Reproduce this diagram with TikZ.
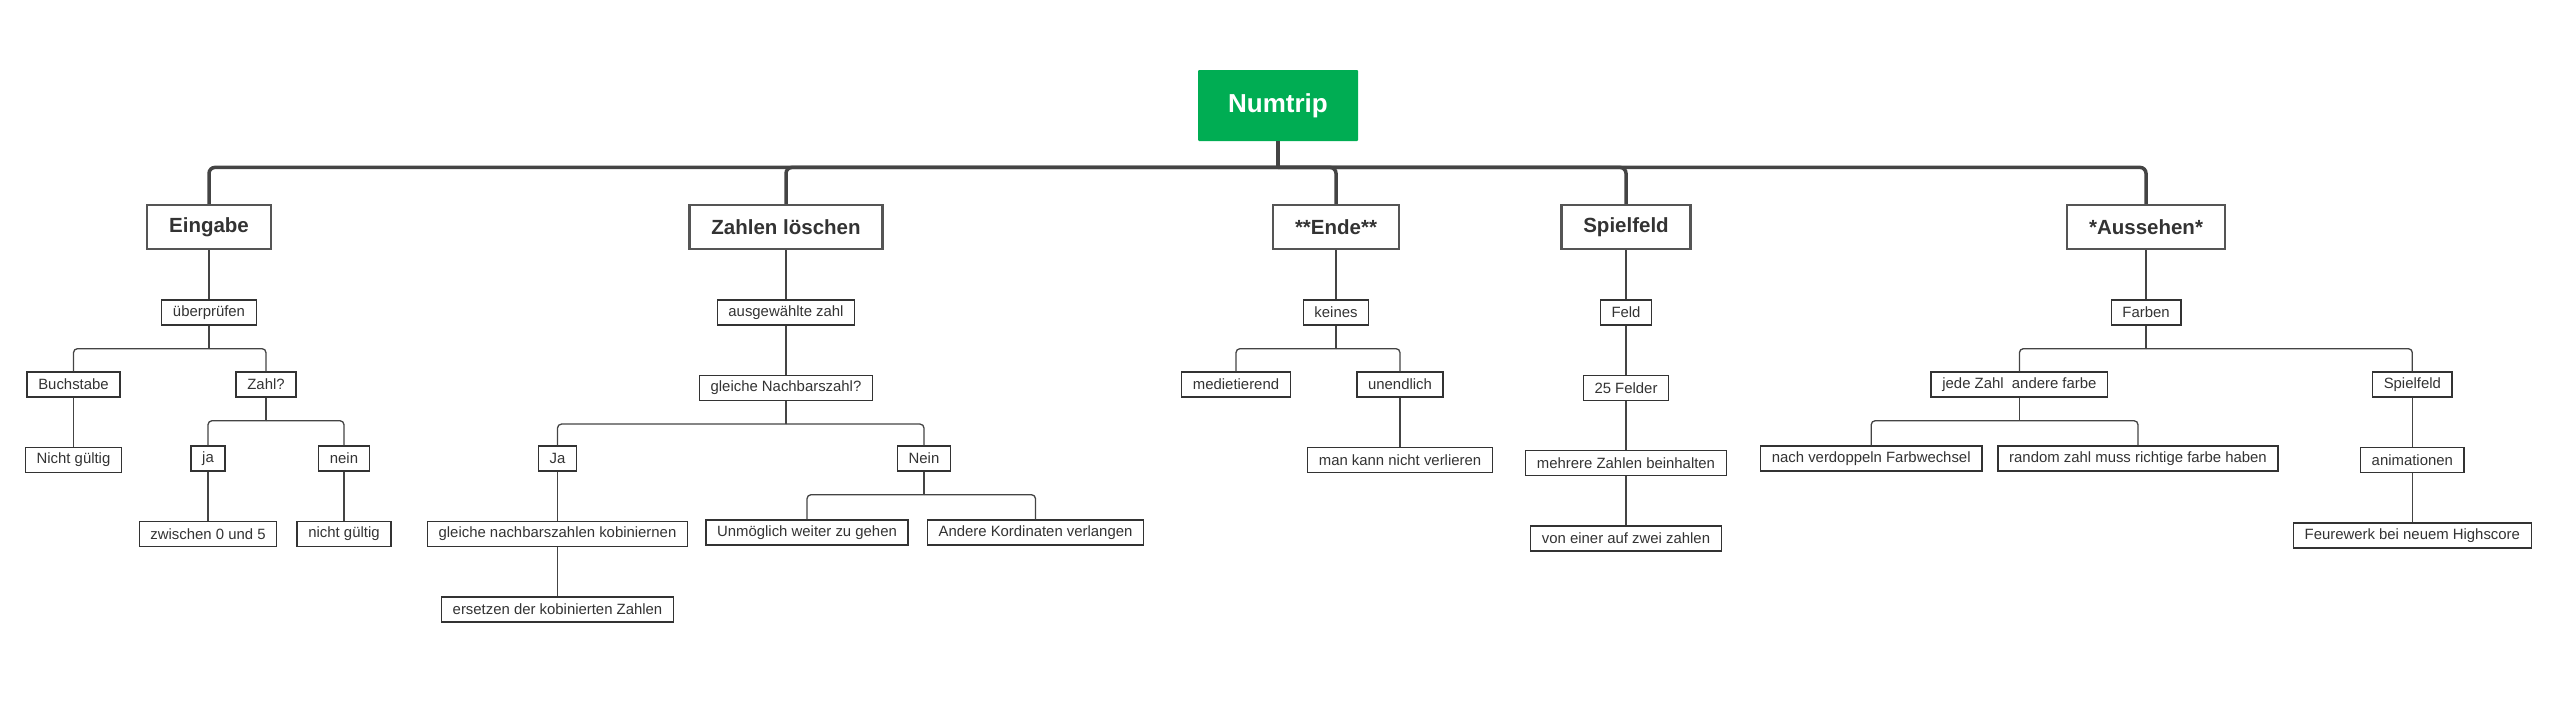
\documentclass[tikz,border=0pt]{standalone}
\usepackage{fontspec}
\setmainfont{Liberation Sans}
\usetikzlibrary{positioning}
\definecolor{rootgreen}{RGB}{0,173,83}
\definecolor{linegray}{RGB}{68,68,68}
\definecolor{boxgray}{RGB}{85,85,85}
\definecolor{inkgray}{RGB}{51,51,51}
% parent with two children, joined by a bar under the parent
\newcommand{\fork}[3]{%
  \path (#1.south) ++(0,23) coordinate (#1-j);
  \draw[link] (#1.south) -- (#1-j);
  \draw[link] (#1-j) -| (#2.north);
  \draw[link] (#1-j) -| (#3.north);}

\begin{document}
\begin{tikzpicture}[x=0.5pt, y=-0.5pt,
  every node/.style={inner sep=0pt},
  root/.style={fill=rootgreen, text=white, rounded corners=0.5pt,
               font=\fontsize{13}{15}\selectfont\bfseries,
               minimum width=80pt, minimum height=35.5pt},
  topic/.style={draw=boxgray, line width=1.25pt, fill=white, text=inkgray,
                font=\fontsize{10.25}{12}\selectfont\bfseries,
                inner xsep=11pt, minimum height=22pt},
  leaf/.style={draw=inkgray, line width=0.7pt, fill=white, text=inkgray,
               font=\fontsize{7.45}{9}\selectfont,
               inner xsep=5.6pt, minimum height=12.5pt},
  trunk/.style={draw=linegray, line width=1.75pt, rounded corners=3pt},
  link/.style={draw=linegray, line width=0.65pt, rounded corners=2pt}]
\useasboundingbox (0,0) rectangle (2551,720);

\node[root] (root) at (1278,105.5) {Numtrip};
\node[topic] (eing) at (209,227) {Eingabe};
\node[topic] (loesch) at (786,227) {Zahlen löschen};
\node[topic] (ende) at (1336,227) {**Ende**};
\node[topic] (feldtop) at (1626,227) {Spielfeld};
\node[topic] (auss) at (2146,227) {*Aussehen*};

% Eingabe
\node[leaf, below=24.5pt of eing] (pruef) {überprüfen};
\node[leaf] (buch) at (73.5,384.5) {Buchstabe};
\node[leaf] (zahlq) at (266,384.5) {Zahl?};
\node[leaf, below=24.5pt of buch] (ungA) {Nicht gültig};
\node[leaf] (ja) at (208,458.5) {ja};
\node[leaf] (nein) at (344,458.5) {nein};
\node[leaf, below=24.5pt of ja] (zw) {zwischen 0 und 5};
\node[leaf, below=24.5pt of nein] (ungB) {nicht gültig};

% Zahlen loeschen
\node[leaf, below=24.5pt of loesch] (ausw) {ausgewählte zahl};
\node[leaf, below=24.5pt of ausw] (nachb) {gleiche Nachbarszahl?};
\node[leaf] (jaB) at (557.5,458.5) {Ja};
\node[leaf] (neinB) at (924,458.5) {Nein};
\node[leaf, below=24.5pt of jaB] (komb) {gleiche nachbarszahlen kobiniernen};
\node[leaf, below=24.5pt of komb] (ersetz) {ersetzen der kobinierten Zahlen};
\node[leaf] (unm) at (807,532.5) {Unmöglich weiter zu gehen};
\node[leaf] (kord) at (1035.5,532.5) {Andere Kordinaten verlangen};

% Ende
\node[leaf, below=24.5pt of ende] (keines) {keines};
\node[leaf] (medi) at (1236,384.5) {medietierend};
\node[leaf] (unend) at (1400,384.5) {unendlich};
\node[leaf, below=24.5pt of unend] (verl) {man kann nicht verlieren};

% Spielfeld
\node[leaf, below=24.5pt of feldtop] (feld) {Feld};
\node[leaf, below=24.5pt of feld] (f25) {25 Felder};
\node[leaf, below=24.5pt of f25] (mehr) {mehrere Zahlen beinhalten};
\node[leaf, below=24.5pt of mehr] (zwei) {von einer auf zwei zahlen};

% Aussehen
\node[leaf, below=24.5pt of auss] (farb) {Farben};
\node[leaf] (jede) at (2019.4,384.5) {jede Zahl\ \ andere farbe};
\node[leaf] (spf) at (2412.3,384.5) {Spielfeld};
\node[leaf] (verd) at (1871.2,458.5) {nach verdoppeln Farbwechsel};
\node[leaf] (rand) at (2138,458.5) {random zahl muss richtige farbe haben};
\node[leaf, below=24.5pt of spf] (anim) {animationen};
\node[leaf, below=24.5pt of anim] (feuer) {Feurewerk bei neuem Highscore};

% connectors
\path (root.south) ++(0,26) coordinate (rj);
\draw[trunk] (root.south) -- (rj);
\foreach \t in {eing,loesch,ende,feldtop,auss}
  \draw[trunk] (rj) -| (\t.north);

\foreach \a/\b in {eing/pruef, buch/ungA, ja/zw, nein/ungB, loesch/ausw,
                   ausw/nachb, jaB/komb, komb/ersetz, ende/keines, unend/verl,
                   feldtop/feld, feld/f25, f25/mehr, mehr/zwei, auss/farb,
                   spf/anim, anim/feuer}
  \draw[link] (\a) -- (\b);

\fork{pruef}{buch}{zahlq}
\fork{zahlq}{ja}{nein}
\fork{nachb}{jaB}{neinB}
\fork{neinB}{unm}{kord}
\fork{keines}{medi}{unend}
\fork{farb}{jede}{spf}
\fork{jede}{verd}{rand}
\end{tikzpicture}
\end{document}
